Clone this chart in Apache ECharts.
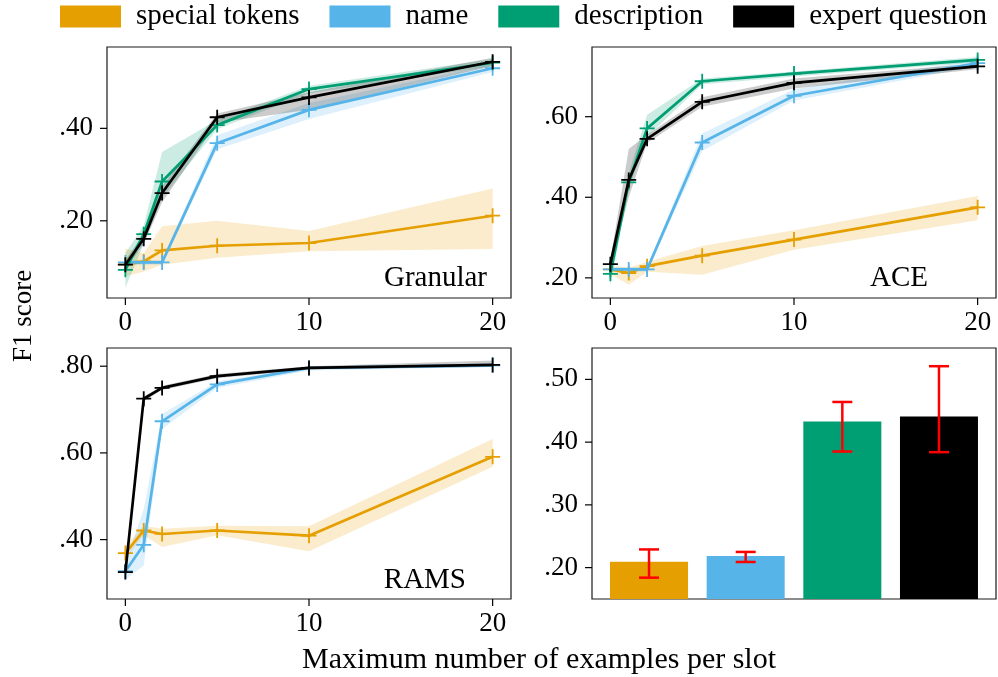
<!DOCTYPE html>
<html>
<head>
<meta charset="utf-8">
<script src="https://cdn.jsdelivr.net/npm/echarts@6/dist/echarts.min.js"></script>
<style>html,body{margin:0;padding:0;background:#fff}#c{width:998px;height:677px}</style>
</head>
<body>
<div id="c"></div>
<script>
// ---------- data ----------
const seriesNames = ['special tokens', 'name', 'description', 'expert question'];
const colors = ['#E69F00', '#56B4E9', '#009E73', '#000000'];
const shots = [0, 1, 2, 5, 10, 20];
const xTicks = [0, 10, 20];

// Granular
const granSpecial   = [0.105, 0.112, 0.136, 0.146, 0.152, 0.211];
const granSpecialLo = [0.080, 0.090, 0.105, 0.120, 0.134, 0.139];
const granSpecialHi = [0.140, 0.130, 0.188, 0.200, 0.178, 0.270];
const granName      = [0.110, 0.110, 0.110, 0.368, 0.440, 0.530];
const granNameLo    = [0.104, 0.105, 0.105, 0.355, 0.420, 0.522];
const granNameHi    = [0.116, 0.115, 0.115, 0.385, 0.455, 0.538];
const granDesc      = [0.094, 0.171, 0.285, 0.407, 0.485, 0.542];
const granDescLo    = [0.055, 0.150, 0.250, 0.398, 0.476, 0.535];
const granDescHi    = [0.130, 0.190, 0.349, 0.418, 0.492, 0.550];
const granExpert    = [0.105, 0.161, 0.260, 0.424, 0.467, 0.544];
const granExpertLo  = [0.095, 0.150, 0.240, 0.412, 0.440, 0.535];
const granExpertHi  = [0.115, 0.172, 0.275, 0.432, 0.478, 0.553];
const granTicks = [0.20, 0.40];

// ACE
const aceSpecial   = [0.221, 0.212, 0.229, 0.255, 0.295, 0.375];
const aceSpecialLo = [0.210, 0.183, 0.215, 0.208, 0.270, 0.343];
const aceSpecialHi = [0.230, 0.225, 0.240, 0.279, 0.318, 0.403];
const aceName      = [0.221, 0.221, 0.221, 0.536, 0.652, 0.733];
const aceNameLo    = [0.215, 0.215, 0.215, 0.515, 0.640, 0.725];
const aceNameHi    = [0.227, 0.227, 0.227, 0.558, 0.668, 0.742];
const aceDesc      = [0.210, 0.437, 0.571, 0.688, 0.707, 0.741];
const aceDescLo    = [0.180, 0.420, 0.550, 0.680, 0.700, 0.735];
const aceDescHi    = [0.230, 0.460, 0.605, 0.695, 0.712, 0.748];
const aceExpert    = [0.234, 0.443, 0.545, 0.637, 0.684, 0.725];
const aceExpertLo  = [0.225, 0.400, 0.535, 0.625, 0.670, 0.718];
const aceExpertHi  = [0.245, 0.520, 0.555, 0.648, 0.695, 0.732];
const aceTicks = [0.20, 0.40, 0.60];

// RAMS
const ramsSpecial   = [0.369, 0.421, 0.413, 0.421, 0.409, 0.591];
const ramsSpecialLo = [0.355, 0.410, 0.383, 0.410, 0.373, 0.568];
const ramsSpecialHi = [0.385, 0.432, 0.425, 0.432, 0.431, 0.632];
const ramsName      = [0.327, 0.388, 0.673, 0.758, 0.796, 0.802];
const ramsNameLo    = [0.308, 0.340, 0.655, 0.750, 0.790, 0.798];
const ramsNameHi    = [0.346, 0.470, 0.690, 0.765, 0.800, 0.806];
const ramsExpert    = [0.325, 0.725, 0.750, 0.777, 0.796, 0.803];
const ramsExpertLo  = [0.300, 0.720, 0.745, 0.772, 0.793, 0.798];
const ramsExpertHi  = [0.335, 0.730, 0.755, 0.782, 0.800, 0.813];
const ramsTicks = [0.40, 0.60, 0.80];

// Average (bar panel)
const avgScore = [0.2095, 0.2186, 0.433, 0.441];
const avgLo    = [0.184, 0.209, 0.385, 0.384];
const avgHi    = [0.229, 0.225, 0.464, 0.521];
const avgTicks = [0.20, 0.30, 0.40, 0.50];

// ---------- helpers ----------
const FONT = '"Liberation Serif", "DejaVu Serif", serif';
const PLUS = 'path://M-0.12,-1L0.12,-1L0.12,-0.12L1,-0.12L1,0.12L0.12,0.12L0.12,1L-0.12,1L-0.12,0.12L-1,0.12L-1,-0.12L-0.12,-0.12Z';
const fmt = v => v.toFixed(2).replace(/^0/, '');

function hexA(hex, a) {
  const n = parseInt(hex.slice(1), 16);
  return 'rgba(' + (n >> 16 & 255) + ',' + (n >> 8 & 255) + ',' + (n & 255) + ',' + a + ')';
}

const grids = [
  {left: 107, top: 47, width: 404, height: 251},
  {left: 592, top: 47, width: 404, height: 251},
  {left: 107, top: 348, width: 404, height: 251},
  {left: 592, top: 348, width: 404, height: 251}
];
grids.forEach(g => { g.show = true; g.borderColor = '#1a1a1a'; g.borderWidth = 1.2; g.containLabel = false; });

const yRanges = [[0.033, 0.576], [0.15, 0.773], [0.263, 0.842], [0.15, 0.55]];
const xRanges = [[-1, 21], [-1, 21], [-1, 21], [-0.59, 3.59]];
const yTickSets = [granTicks, aceTicks, ramsTicks, avgTicks];

function yAxis(gi) {
  return {
    type: 'value', gridIndex: gi, min: yRanges[gi][0], max: yRanges[gi][1],
    splitLine: {show: false}, axisLine: {show: false}, axisTick: {show: false},
    axisLabel: {customValues: yTickSets[gi], formatter: fmt, margin: 14, fontFamily: FONT, fontSize: 27, color: '#000'}
  };
}
function xAxis(gi, showLabels) {
  return {
    type: 'value', gridIndex: gi, min: xRanges[gi][0], max: xRanges[gi][1],
    splitLine: {show: false}, axisLine: {show: false}, axisTick: {show: false},
    axisLabel: {show: showLabels, customValues: xTicks, margin: 11, fontFamily: FONT, fontSize: 27, color: '#000'}
  };
}

const series = [];
// tick marks (outward), placed through the axes' scales
function addTicks(gi, yt, xt) {
  series.push({
    type: 'custom', xAxisIndex: gi, yAxisIndex: gi, silent: true, clip: false, z: 10,
    data: yt.map(v => [xRanges[gi][0], v]),
    renderItem: function (params, api) {
      const p = api.coord([api.value(0), api.value(1)]);
      return {type: 'line', shape: {x1: p[0] - 7, y1: p[1], x2: p[0], y2: p[1]}, style: {stroke: '#000', lineWidth: 1.2}};
    }
  });
  if (xt) series.push({
    type: 'custom', xAxisIndex: gi, yAxisIndex: gi, silent: true, clip: false, z: 10,
    data: xt.map(v => [v, yRanges[gi][0]]),
    renderItem: function (params, api) {
      const p = api.coord([api.value(0), api.value(1)]);
      return {type: 'line', shape: {x1: p[0], y1: p[1], x2: p[0], y2: p[1] + 7}, style: {stroke: '#000', lineWidth: 1.2}};
    }
  });
}
addTicks(0, granTicks, xTicks);
addTicks(1, aceTicks, xTicks);
addTicks(2, ramsTicks, xTicks);
addTicks(3, avgTicks, null);

function addPanel(gi, means, los, his, idxs) {
  means.forEach((m, k) => {
    const ci = idxs[k];
    const lo = los[k], hi = his[k];
    series.push({
      type: 'custom', xAxisIndex: gi, yAxisIndex: gi, silent: true, z: 1,
      data: shots.map((x, i) => [x, lo[i], hi[i]]),
      encode: {x: 0, y: [1, 2]},
      renderItem: function (params, api) {
        if (params.dataIndex !== 0) return null;
        const up = shots.map((x, i) => api.coord([x, hi[i]]));
        const dn = shots.map((x, i) => api.coord([x, lo[i]])).reverse();
        return {type: 'polygon', shape: {points: up.concat(dn)}, style: {fill: hexA(colors[ci], 0.2)}};
      }
    });
  });
  means.forEach((m, k) => {
    const ci = idxs[k];
    series.push({
      name: seriesNames[ci], type: 'line', xAxisIndex: gi, yAxisIndex: gi, z: 3 + k,
      data: shots.map((x, i) => [x, m[i]]),
      symbol: PLUS, symbolSize: 15, showSymbol: true,
      itemStyle: {color: colors[ci]},
      lineStyle: {color: colors[ci], width: 2.7},
      animation: false
    });
  });
}

addPanel(0, [granSpecial, granName, granDesc, granExpert],
  [granSpecialLo, granNameLo, granDescLo, granExpertLo],
  [granSpecialHi, granNameHi, granDescHi, granExpertHi], [0, 1, 2, 3]);
addPanel(1, [aceSpecial, aceName, aceDesc, aceExpert],
  [aceSpecialLo, aceNameLo, aceDescLo, aceExpertLo],
  [aceSpecialHi, aceNameHi, aceDescHi, aceExpertHi], [0, 1, 2, 3]);
addPanel(2, [ramsSpecial, ramsName, ramsExpert],
  [ramsSpecialLo, ramsNameLo, ramsExpertLo],
  [ramsSpecialHi, ramsNameHi, ramsExpertHi], [0, 1, 3]);

// bar panel
series.push({
  type: 'bar', xAxisIndex: 3, yAxisIndex: 3, barWidth: 78, z: 2,
  data: avgScore.map((v, i) => ({value: [i, v], itemStyle: {color: colors[i]}})),
  animation: false
});
series.push({
  type: 'custom', xAxisIndex: 3, yAxisIndex: 3, z: 5, silent: true,
  data: avgScore.map((v, i) => [i, avgLo[i], avgHi[i]]),
  encode: {x: 0, y: [1, 2]},
  renderItem: function (params, api) {
    const a = api.coord([api.value(0), api.value(1)]);
    const b = api.coord([api.value(0), api.value(2)]);
    const w = 10;
    const st = {stroke: '#ff0000', lineWidth: 2.5};
    return {type: 'group', children: [
      {type: 'line', shape: {x1: a[0], y1: a[1], x2: b[0], y2: b[1]}, style: st},
      {type: 'line', shape: {x1: a[0] - w, y1: a[1], x2: a[0] + w, y2: a[1]}, style: st},
      {type: 'line', shape: {x1: b[0] - w, y1: b[1], x2: b[0] + w, y2: b[1]}, style: st}
    ]};
  }
});

const option = {
  backgroundColor: '#fff',
  animation: false,
  grid: grids,
  xAxis: [xAxis(0, true), xAxis(1, true), xAxis(2, true), xAxis(3, false)],
  yAxis: [yAxis(0), yAxis(1), yAxis(2), yAxis(3)],
  legend: {
    data: seriesNames.map(n => ({name: n, icon: 'rect'})),
    left: 55, top: -3, itemWidth: 61, itemHeight: 22, itemGap: 30,
    textStyle: {fontFamily: FONT, fontSize: 29, color: '#000', padding: [0, 0, 0, 10]},
    selectedMode: false
  },
  graphic: [
    {type: 'text', x: 487, y: 278, style: {text: 'Granular', font: '29px ' + FONT, fill: '#000', textAlign: 'right', textVerticalAlign: 'middle'}},
    {type: 'text', x: 928, y: 278, style: {text: 'ACE', font: '29px ' + FONT, fill: '#000', textAlign: 'right', textVerticalAlign: 'middle'}},
    {type: 'text', x: 466, y: 580, style: {text: 'RAMS', font: '29px ' + FONT, fill: '#000', textAlign: 'right', textVerticalAlign: 'middle'}},
    {type: 'text', x: 539, y: 660, style: {text: 'Maximum number of examples per slot', font: '30px ' + FONT, fill: '#000', textAlign: 'center', textVerticalAlign: 'middle'}},
    {type: 'text', x: 24, y: 316, rotation: Math.PI / 2, style: {text: 'F1 score', font: '27px ' + FONT, fill: '#000', textAlign: 'center', textVerticalAlign: 'middle'}}
  ],
  series: series
};

const chart = echarts.init(document.getElementById('c'), null, {renderer: 'canvas'});
chart.setOption(option);
</script>
</body>
</html>
